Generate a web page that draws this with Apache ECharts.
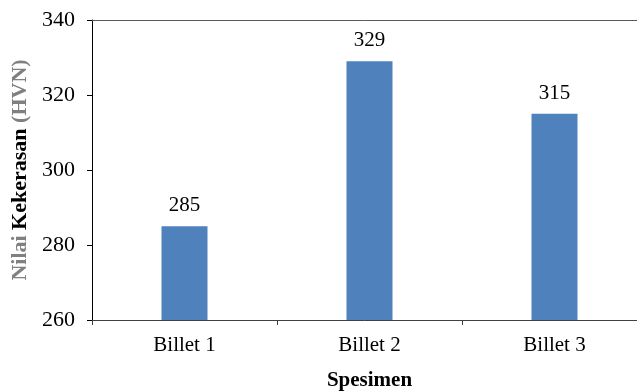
<!DOCTYPE html>
<html>
<head>
<meta charset="utf-8">
<script src="https://cdn.jsdelivr.net/npm/echarts@6/dist/echarts.min.js"></script>
<style>
  html, body { margin: 0; padding: 0; background: #fff; overflow: hidden; }
  #chart { width: 637px; height: 392px; }
</style>
</head>
<body>
<div id="chart"></div>
<script>
// Hardness per specimen
const categories = ['Billet 1', 'Billet 2', 'Billet 3'];
const hardness = [285, 329, 315];
const yTicks = [260, 280, 300, 320, 340];

const serif = '"Liberation Serif", "Times New Roman", serif';
const chart = echarts.init(document.getElementById('chart'), null, { renderer: 'canvas' });

chart.setOption({
  animation: false,
  // plot area runs a little past the right edge of the canvas
  grid: { left: 92, width: 555, top: 20, bottom: 72, containLabel: false, outerBoundsMode: 'none' },
  xAxis: [{
    type: 'category',
    data: categories,
    position: 'bottom',
    axisLine: { lineStyle: { color: '#404040', width: 1 } },
    axisTick: { show: true, length: 5, lineStyle: { color: '#404040' } },
    axisLabel: { fontFamily: serif, fontSize: 21, color: '#000', margin: 15 },
    name: 'Spesimen',
    nameLocation: 'middle',
    nameGap: 50,
    nameTextStyle: { fontFamily: serif, fontSize: 21, fontWeight: 'bold', color: '#000' }
  }, {
    type: 'category',
    data: categories,
    position: 'top',
    axisLine: { show: true, lineStyle: { color: '#595959', width: 1 } },
    axisTick: { show: false },
    axisLabel: { show: false }
  }],
  yAxis: {
    type: 'value',
    min: yTicks[0],
    max: yTicks[yTicks.length - 1],
    interval: yTicks[1] - yTicks[0],
    axisLine: { show: true, lineStyle: { color: '#000', width: 1 } },
    axisTick: { show: true, length: 5, lineStyle: { color: '#000' } },
    splitLine: { show: false },
    axisLabel: { fontFamily: serif, fontSize: 22, color: '#000', margin: 17 },
    name: '{g|Nilai }{b|Kekerasan}{g| (HVN)}',
    nameLocation: 'middle',
    nameGap: 60,
    nameRotate: 90,
    nameTextStyle: {
      rich: {
        g: { fontFamily: serif, fontSize: 22, fontWeight: 'bold', color: '#808080' },
        b: { fontFamily: serif, fontSize: 22, fontWeight: 'bold', color: '#000' }
      }
    }
  },
  series: [{
    type: 'bar',
    data: hardness,
    barWidth: 46,
    itemStyle: { color: '#4F81BD' },
    label: {
      show: true,
      position: 'top',
      distance: 10,
      fontFamily: serif,
      fontSize: 21,
      color: '#000'
    }
  }]
});
</script>
</body>
</html>
